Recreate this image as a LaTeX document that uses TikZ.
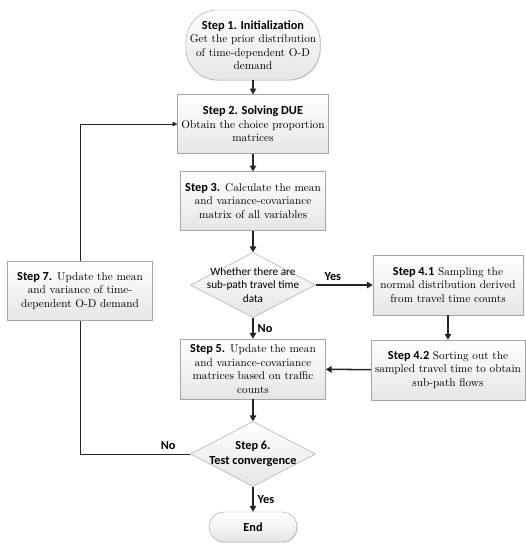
\documentclass[tikz,border=0pt]{standalone}
\usepackage{fontspec}
\newfontfamily\stepfont{Carlito}
\usetikzlibrary{shapes.geometric, arrows.meta, shadows}

\newcommand{\stp}[1]{{\stepfont\bfseries\fontsize{10.5}{11.5}\selectfont #1}}

\tikzstyle{startstop} = [
rectangle,
rounded corners=0.95cm,
minimum width=4.02cm,
minimum height=2.1cm,
align=center,
draw=gray!70,
top color=white,
bottom color=gray!20,
drop shadow={opacity=0.25, shadow xshift=0.7pt, shadow yshift=-0.7pt},
font=\fontsize{9.6}{11.5}\selectfont
]
\tikzstyle{process} = [
rectangle,
minimum width=4.35cm,
minimum height=1.76cm,
align=center,
draw=gray!70,
top color=white,
bottom color=gray!20,
drop shadow={opacity=0.25, shadow xshift=0.7pt, shadow yshift=-0.7pt},
font=\fontsize{9.6}{11.5}\selectfont
]
\tikzstyle{decision} = [
diamond,
inner sep=0pt,
minimum width=3.75cm,
minimum height=1.95cm,
draw=gray!70,
top color=white,
bottom color=gray!20
]
\tikzstyle{arrow} = [
line width=1.3pt,
draw=gray!30!black,
-{Triangle[length=5pt,width=5.5pt]}
]
\tikzstyle{loopline} = [
line width=0.6pt,
draw=black!85
]
\tikzstyle{answer} = [
font=\stepfont\bfseries\fontsize{10.5}{11.5}\selectfont
]

\begin{document}
\begin{tikzpicture}[
node distance=2.4cm
]

\node (init) [startstop]
{\stp{Step 1. Initialization}\\Get the prior distribution\\of time-dependent O-D\\demand};

\node (due) [process, below of=init, yshift=0.03cm]
{\stp{Step 2. Solving DUE}\\Obtain the choice proportion\\matrices};

\node (moments) [process, below of=due, yshift=0.09cm]
{\stp{Step 3.} Calculate the mean\\and variance-covariance\\matrix of all variables};

\node (hasdata) [decision, below of=moments, yshift=-0.12cm,
label={[font=\stepfont\fontsize{9.6}{11.5}\selectfont, align=center]center:{Whether there are\\sub-path travel time\\data}}] {};

\node (sampling) [process, right of=hasdata, xshift=3.45cm, minimum width=4.5cm, minimum height=1.8cm]
{\stp{Step 4.1} Sampling the\\normal distribution derived\\from travel time counts};

\node (sorting) [process, below of=sampling, yshift=-0.15cm, minimum width=4.5cm, minimum height=1.8cm]
{\stp{Step 4.2} Sorting out the\\sampled travel time to obtain\\sub-path flows};

\node (update) [process, below of=hasdata, yshift=-0.12cm, minimum height=1.8cm]
{\stp{Step 5.} Update the mean\\and variance-covariance\\matrices based on traffic\\counts};

\node (converge) [decision, below of=update, yshift=-0.15cm,
label={[font=\stepfont\bfseries\fontsize{10.5}{12.5}\selectfont, align=center]center:{Step 6.\\Test convergence}}] {};

\node (end) [startstop, below of=converge, yshift=0.21cm,
minimum width=2.64cm, minimum height=0.9cm, rounded corners=0.45cm]
{\stp{End}};

\node (revise) [process, left of=hasdata, xshift=-2.79cm, yshift=-0.18cm]
{\stp{Step 7.} Update the mean\\and variance of time-\\dependent O-D demand};

\useasboundingbox ([shift={(-7.59,1.35)}]init.center) rectangle ([shift={(8.13,-15.15)}]init.center);

\draw [arrow] (init) -- (due);

\draw [arrow] (due) -- (moments);

\draw [arrow] (moments) -- (hasdata);

\draw [arrow] (hasdata) -- node[answer, above, pos=0.3] {Yes} (sampling);

\draw [arrow] (hasdata) -- node[answer, right] {No} (update);

\draw [arrow] (sampling) -- (sorting);

\draw [arrow] (sorting) -- (update);

\draw [arrow] (update) -- (converge);

\draw [arrow] (converge) -- node[answer, right] {Yes} (end);

\draw [loopline] (converge) -| node[answer, above, pos=0.1] {No} (revise);

\draw [loopline, -{Triangle[length=4pt,width=4pt]}] (revise) |- (due);

\end{tikzpicture}
\end{document}
